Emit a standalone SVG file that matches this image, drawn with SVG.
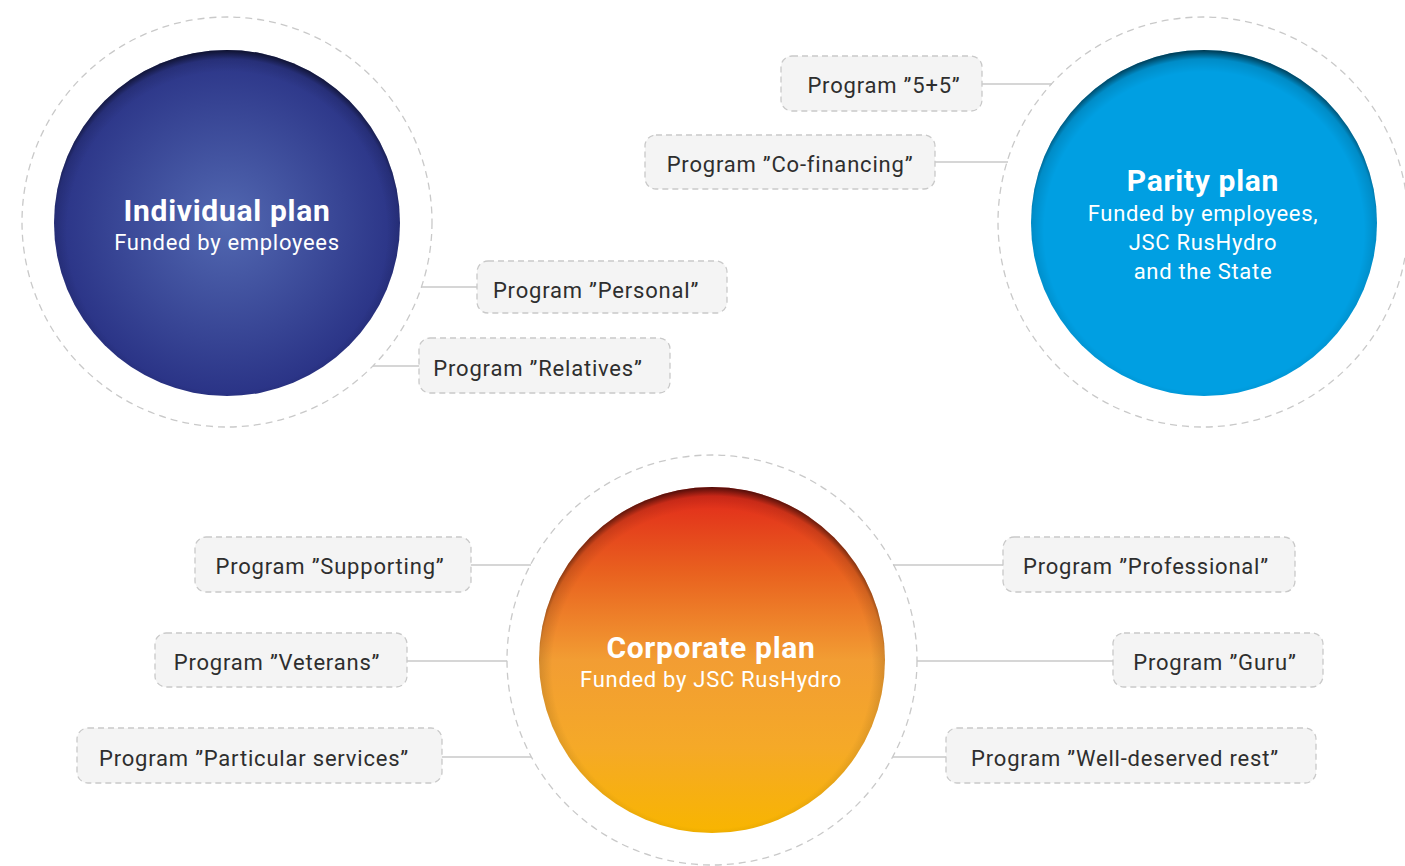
<svg xmlns="http://www.w3.org/2000/svg" width="1405" height="866" viewBox="0 0 1405 866">
<defs>
<style>
.halo{fill:none;stroke:#c9c9c9;stroke-width:1.3;stroke-dasharray:7 5}
.box{fill:#f4f4f4;stroke:#c9c9c9;stroke-width:1.3;stroke-dasharray:6 4}
.lbl{font-family:Roboto,"Liberation Sans",sans-serif;font-size:22px;fill:#2e2e2e;text-anchor:middle;letter-spacing:0.8px}
.ttl{font-family:Roboto,"Liberation Sans",sans-serif;font-weight:bold;font-size:30px;fill:#fff;text-anchor:middle;letter-spacing:0.7px}
.sub{font-family:Roboto,"Liberation Sans",sans-serif;font-size:22px;fill:#fff;text-anchor:middle;letter-spacing:0.7px}
.conn line{stroke:#c9c9c9;stroke-width:1.5}
</style>
<radialGradient id="gInd" cx="0.5" cy="0.5" r="0.5">
<stop offset="0" stop-color="#5268b1"/>
<stop offset="1" stop-color="#2a3386"/>
</radialGradient>
<linearGradient id="gCorp" x1="0" y1="0" x2="0" y2="1">
<stop offset="0" stop-color="#e1261a"/>
<stop offset="0.25" stop-color="#e9621f"/>
<stop offset="0.5" stop-color="#f29d33"/>
<stop offset="0.75" stop-color="#f5a928"/>
<stop offset="1" stop-color="#f8b500"/>
</linearGradient>
<radialGradient id="gShade" cx="0.5" cy="0.525" r="0.525">
<stop offset="0.88" stop-color="#000" stop-opacity="0"/>
<stop offset="0.95" stop-color="#000" stop-opacity="0.12"/>
<stop offset="1" stop-color="#000" stop-opacity="0.65"/>
</radialGradient>
</defs>
<rect width="1405" height="866" fill="#fff"/>

<g id="connectors" class="conn">
<line x1="982" y1="84" x2="1052" y2="84"/>
<line x1="935" y1="162" x2="1008" y2="162"/>
<line x1="421" y1="287" x2="477" y2="287"/>
<line x1="373" y1="366" x2="419" y2="366"/>
<line x1="471" y1="565" x2="531" y2="565"/>
<line x1="407" y1="661" x2="507" y2="661"/>
<line x1="442" y1="757" x2="531" y2="757"/>
<line x1="893" y1="565" x2="1003" y2="565"/>
<line x1="917" y1="661" x2="1113" y2="661"/>
<line x1="893" y1="757" x2="946" y2="757"/>
</g>

<g id="individual-plan">
<circle class="halo" cx="227" cy="222" r="205"/>
<circle cx="227" cy="223" r="173" fill="url(#gInd)"/>
<circle cx="227" cy="223" r="173" fill="url(#gShade)"/>
<text class="ttl" x="227" y="221">Individual plan</text>
<text class="sub" x="227" y="250">Funded by employees</text>
</g>

<g id="parity-plan">
<circle class="halo" cx="1203" cy="222" r="205"/>
<circle cx="1204" cy="223" r="173" fill="#009fe2"/>
<circle cx="1204" cy="223" r="173" fill="url(#gShade)"/>
<text class="ttl" x="1203" y="191">Parity plan</text>
<text class="sub" x="1203" y="221">Funded by employees,</text>
<text class="sub" x="1203" y="250">JSC RusHydro</text>
<text class="sub" x="1203" y="279">and the State</text>
</g>

<g id="corporate-plan">
<circle class="halo" cx="712" cy="660" r="205"/>
<circle cx="712" cy="660" r="173" fill="url(#gCorp)"/>
<circle cx="712" cy="660" r="173" fill="url(#gShade)"/>
<text class="ttl" x="711" y="658">Corporate plan</text>
<text class="sub" x="711" y="687">Funded by JSC RusHydro</text>
</g>

<g id="prog-5-5"><rect class="box" x="781" y="56" width="201" height="55" rx="11"/><text class="lbl" x="884" y="93">Program ”5+5”</text></g>
<g id="prog-cofinancing"><rect class="box" x="645" y="135" width="290" height="54" rx="11"/><text class="lbl" x="790" y="172">Program ”Co-financing”</text></g>
<g id="prog-personal"><rect class="box" x="477" y="261" width="250" height="52" rx="11"/><text class="lbl" x="596" y="298">Program ”Personal”</text></g>
<g id="prog-relatives"><rect class="box" x="419" y="338" width="251" height="55" rx="11"/><text class="lbl" x="538" y="376">Program ”Relatives”</text></g>
<g id="prog-supporting"><rect class="box" x="195" y="537" width="276" height="55" rx="11"/><text class="lbl" x="330" y="574">Program ”Supporting”</text></g>
<g id="prog-veterans"><rect class="box" x="155" y="633" width="252" height="54" rx="11"/><text class="lbl" x="277" y="670">Program ”Veterans”</text></g>
<g id="prog-particular"><rect class="box" x="77" y="728" width="365" height="55" rx="11"/><text class="lbl" x="254" y="766">Program ”Particular services”</text></g>
<g id="prog-professional"><rect class="box" x="1003" y="537" width="292" height="55" rx="11"/><text class="lbl" x="1146" y="574">Program ”Professional”</text></g>
<g id="prog-guru"><rect class="box" x="1113" y="633" width="210" height="54" rx="11"/><text class="lbl" x="1215" y="670">Program ”Guru”</text></g>
<g id="prog-well-deserved"><rect class="box" x="946" y="728" width="370" height="55" rx="11"/><text class="lbl" x="1125" y="766">Program ”Well-deserved rest”</text></g>
</svg>
